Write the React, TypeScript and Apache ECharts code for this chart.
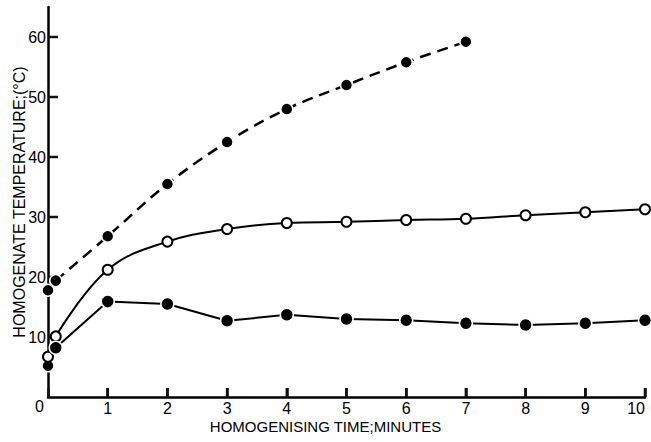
import React, { useEffect, useRef } from "react";
import * as echarts from "echarts";

// Data
const times = [0.13, 1, 2, 3, 4, 5, 6, 7, 8, 9, 10];
const dashedTemps = [19.4, 26.8, 35.5, 42.5, 48.0, 52.0, 55.8, 59.2];
const openTemps = [10.1, 21.2, 25.9, 28.0, 29.0, 29.2, 29.5, 29.7, 30.3, 30.8, 31.3];
const lowerTemps = [8.2, 15.9, 15.5, 12.7, 13.7, 13.0, 12.8, 12.3, 12.0, 12.3, 12.8];
// isolated starting readings at time 0
const startFilled = [17.8, 5.2];
const startOpen = [6.7];

// tick marks
const xTicks = [1, 2, 3, 4, 5, 6, 7, 8, 9, 10];
const yTicks = [10, 20, 30, 40, 50, 60];

const FONT = "'Liberation Sans', Arial, Helvetica, sans-serif";

export default function App() {
  const ref = useRef<HTMLDivElement>(null);
  useEffect(() => {
    if (!ref.current) return;
    const chart = echarts.init(ref.current, undefined, { renderer: "svg" });
    const pair = (arr: number[]) => arr.map((v, i) => [times[i], v]);
    const filledMarker = {
      color: "#000",
      borderColor: "#fff",
      borderWidth: 1.5,
      opacity: 1,
    };
    const openMarker = { color: "#fff", borderColor: "#000", borderWidth: 2, opacity: 1 };
    chart.setOption({
      animation: false,
      grid: { left: 48, right: 6, top: 7, bottom: 45, containLabel: false, outerBoundsMode: "none" },
      xAxis: {
        type: "value",
        min: 0,
        max: 10,
        interval: 1,
        axisLine: { show: true, lineStyle: { color: "#000", width: 2.5 } },
        axisTick: { show: true, inside: true, length: 9, lineStyle: { color: "#111", width: 2.5 } },
        axisLabel: {
          formatter: (v: number) => (v === 0 ? "" : String(v)),
          color: "#000",
          fontFamily: FONT,
          fontSize: 16,
          margin: 3,
          alignMaxLabel: "right",
        },
        splitLine: { show: false },
        name: "HOMOGENISING TIME;MINUTES",
        nameLocation: "middle",
        nameGap: 22,
        nameMoveOverlap: false,
        nameTextStyle: {
          color: "#000",
          fontFamily: FONT,
          fontSize: 15,
          padding: [0, 42, 0, 0],
        },
      },
      yAxis: {
        type: "value",
        min: 0,
        max: 65,
        interval: 10,
        axisLine: { show: true, lineStyle: { color: "#000", width: 2.5 } },
        axisTick: { show: false },
        axisLabel: {
          formatter: (v: number) => (v === 0 ? "{z|0}" : v > 60 ? "" : String(v)),
          rich: { z: { padding: [18, 2, 0, 0], fontSize: 16, fontFamily: FONT, color: "#000" } },
          color: "#000",
          fontFamily: FONT,
          fontSize: 16,
          margin: 2,
        },
        splitLine: { show: false },
        name: "HOMOGENATE TEMPERATURE;(°C)",
        nameLocation: "middle",
        nameGap: 21,
        nameMoveOverlap: false,
        nameTextStyle: {
          color: "#000",
          fontFamily: FONT,
          fontSize: 16,
        },
      },
      series: [
        {
          // x-axis tick marks (pointing up, inside the plot)
          type: "scatter",
          silent: true,
          clip: false,
          z: 3,
          data: xTicks.map((v) => [v, 0]),
          symbol: "rect",
          symbolSize: [2.5, 9],
          symbolOffset: [0, -4.5],
          itemStyle: { color: "#111", opacity: 1 },
        },
        {
          // y-axis tick marks (pointing right, inside the plot)
          type: "scatter",
          silent: true,
          clip: false,
          z: 3,
          data: yTicks.map((v) => [0, v]),
          symbol: "rect",
          symbolSize: [10, 2.5],
          symbolOffset: [5, 0],
          itemStyle: { color: "#111", opacity: 1 },
        },
        {
          type: "line",
          data: pair(dashedTemps),
          smooth: 0.35,
          symbol: "circle",
          symbolSize: 12,
          lineStyle: { color: "#000", width: 2.5, type: [11, 7] },
          itemStyle: filledMarker,
        },
        {
          type: "line",
          data: pair(openTemps),
          smooth: 0.4,
          symbol: "circle",
          symbolSize: 10,
          lineStyle: { color: "#000", width: 2 },
          itemStyle: openMarker,
        },
        {
          type: "line",
          data: pair(lowerTemps),
          symbol: "circle",
          symbolSize: 13,
          lineStyle: { color: "#000", width: 2 },
          itemStyle: filledMarker,
        },
        {
          type: "scatter",
          data: startFilled.map((v) => [0, v]),
          symbol: "circle",
          symbolSize: 12,
          itemStyle: filledMarker,
        },
        {
          type: "scatter",
          data: startOpen.map((v) => [0, v]),
          symbol: "circle",
          symbolSize: 10,
          itemStyle: openMarker,
        },
      ],
    });
    return () => chart.dispose();
  }, []);
  return (
    <div
      ref={ref}
      style={{ position: "fixed", left: 0, top: 0, width: 651, height: 442, background: "#fff" }}
    />
  );
}
